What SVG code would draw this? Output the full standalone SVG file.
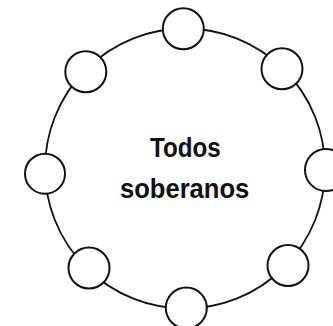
<svg xmlns="http://www.w3.org/2000/svg" width="333" height="326" viewBox="0 0 333 326">
<style>
.ring{fill:none;stroke:#111;stroke-width:1.8}
.node{fill:#fff;stroke:#111;stroke-width:2}
.lbl{font-family:"Liberation Sans",Arial,sans-serif;font-weight:bold;font-size:28px;fill:#111}
</style>
<rect width="333" height="326" fill="#fff"/>
<g id="connectors">
<circle class="ring" cx="185" cy="168.5" r="140"/>
</g>
<g id="node-top"><circle class="node" cx="183.3" cy="28.8" r="20.5"/></g>
<g id="node-upper-right"><circle class="node" cx="282" cy="68.8" r="20.5"/></g>
<g id="node-right"><circle class="node" cx="326" cy="170" r="21"/></g>
<g id="node-lower-right"><circle class="node" cx="288" cy="265.5" r="20.5"/></g>
<g id="node-bottom"><circle class="node" cx="186.3" cy="308" r="20.5"/></g>
<g id="node-lower-left"><circle class="node" cx="89" cy="268" r="20.5"/></g>
<g id="node-left"><circle class="node" cx="45" cy="173.7" r="20"/></g>
<g id="node-upper-left"><circle class="node" cx="85.8" cy="71.8" r="20.5"/></g>
<g id="center-label">
<text class="lbl" x="150" y="157.3" textLength="70.7" lengthAdjust="spacingAndGlyphs">Todos</text>
<text class="lbl" x="120" y="198.3" textLength="129.3" lengthAdjust="spacingAndGlyphs">soberanos</text>
</g>
</svg>
